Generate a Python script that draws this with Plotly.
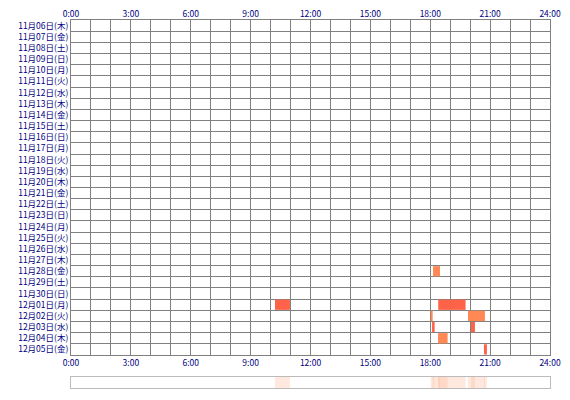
import plotly.graph_objects as go

dates = ["11月06日(木)","11月07日(金)","11月08日(土)","11月09日(日)","11月10日(月)","11月11日(火)",
         "11月12日(水)","11月13日(木)","11月14日(金)","11月15日(土)","11月16日(日)","11月17日(月)",
         "11月18日(火)","11月19日(水)","11月20日(木)","11月21日(金)","11月22日(土)","11月23日(日)",
         "11月24日(月)","11月25日(火)","11月26日(水)","11月27日(木)","11月28日(金)","11月29日(土)",
         "11月30日(日)","12月01日(月)","12月02日(火)","12月03日(水)","12月04日(木)","12月05日(金)"]
# sessions: row index, start hour, end hour, color
rows   = [22, 25, 25, 25, 26, 26, 27, 27, 28, 29]
starts = [18.14, 10.22, 18.40, 19.00, 18.02, 19.89, 18.09, 20.04, 18.39, 20.69]
ends   = [18.49, 10.97, 19.00, 19.77, 18.12, 20.74, 18.22, 20.24, 18.87, 20.84]
colors = ["#FF8855","#FF6347","#FF6347","#FF6347","#FF8855","#FF8855","#FF6347","#FF6347","#FF8855","#FF6347"]
xticks = [0, 3, 6, 9, 12, 15, 18, 21, 24]
xlabels = ["0:00","3:00","6:00","9:00","12:00","15:00","18:00","21:00","24:00"]

fig = go.Figure()
fig.add_trace(go.Bar(orientation="h", y=[r + 0.5 for r in rows],
                     x=[e - s for s, e in zip(starts, ends)], base=starts,
                     width=0.92, marker=dict(color=colors, line=dict(width=0)),
                     xaxis="x", yaxis="y", hoverinfo="skip"))
fig.add_trace(go.Scatter(x=[0, 24], y=[0, 0], mode="markers", marker=dict(opacity=0),
                         xaxis="x2", yaxis="y", hoverinfo="skip"))
fig.add_trace(go.Bar(orientation="h", y=[0.5] * len(rows),
                     x=[e - s for s, e in zip(starts, ends)], base=starts, width=1,
                     marker=dict(color="rgba(255,190,160,0.35)", line=dict(width=0)),
                     xaxis="x3", yaxis="y3", hoverinfo="skip"))

tickfont = dict(family="Noto Sans CJK JP", size=8.5, color="#000080")
grid = "#808080"
fig.update_layout(
    width=562, height=392, margin=dict(l=63, r=20, t=12, b=12, autoexpand=False),
    paper_bgcolor="white", plot_bgcolor="white", showlegend=False, barmode="overlay",
    xaxis=dict(domain=[0, 1], range=[0, 24], tickvals=xticks, ticktext=xlabels,
               tickfont=tickfont, showgrid=True, gridcolor=grid, gridwidth=1, automargin=False,
               minor=dict(dtick=1, tick0=0, showgrid=True, gridcolor=grid, gridwidth=1),
               showline=True, linecolor=grid, mirror=True, ticks="", zeroline=False,
               anchor="y"),
    xaxis2=dict(overlaying="x", side="top", range=[0, 24], tickvals=xticks, ticktext=xlabels,
                tickfont=tickfont, showgrid=False, ticks="", zeroline=False, anchor="y",
                automargin=False),
    yaxis=dict(domain=[0.0897, 1], range=[30, 0], tickvals=[i + 0.5 for i in range(30)],
               ticktext=dates, tickfont=tickfont, showgrid=False, automargin=False,
               minor=dict(dtick=1, tick0=0, showgrid=True, gridcolor=grid, gridwidth=1),
               showline=True, linecolor=grid, mirror=True, ticks="", zeroline=False),
    xaxis3=dict(domain=[0, 1], range=[0, 24], showticklabels=False, showgrid=False,
                showline=True, linecolor="#BBBBBB", mirror=True, ticks="", zeroline=False,
                anchor="y3", automargin=False),
    yaxis3=dict(domain=[0, 0.0299], range=[0, 1], showticklabels=False, showgrid=False,
                showline=True, linecolor="#BBBBBB", mirror=True, ticks="", zeroline=False,
                anchor="x3", automargin=False),
)
fig.write_html("out.html")
